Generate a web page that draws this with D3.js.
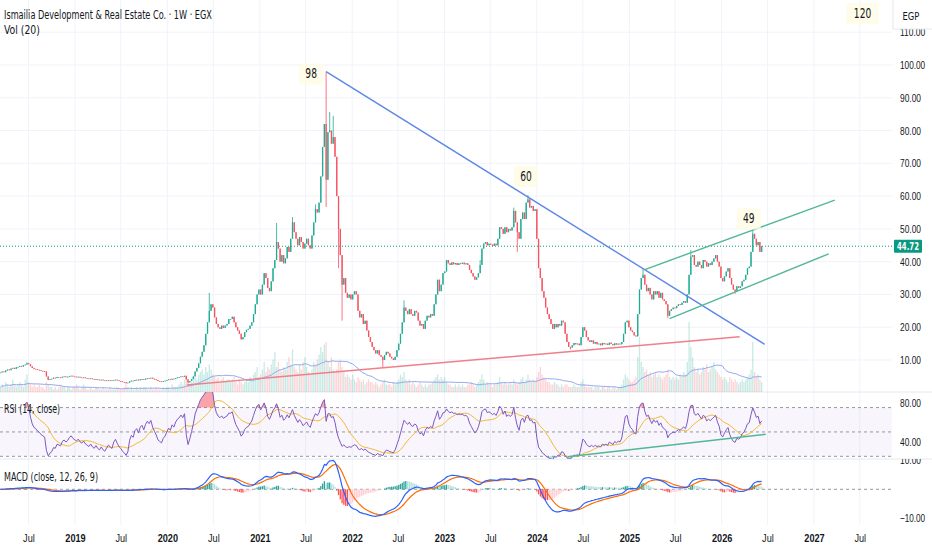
<!DOCTYPE html>
<html lang="en">
<head>
<meta charset="UTF-8">
<title>Ismailia Development &amp; Real Estate Co. · 1W · EGX</title>
<script src="https://d3js.org/d3.v7.min.js"></script>
<style>
  body { margin: 0; background: #fff; }
  svg { display: block; font-family: "DejaVu Sans Condensed", "Liberation Sans", sans-serif; }
  .axis text { fill: #131722; font-size: 11px; }
  .axis path, .axis line { display: none; }
</style>
</head>
<body>
<svg id="chart" width="932" height="550"></svg>
<script>
// weekly bars, first bar in the week of 2018-03-12
const startDate = new Date(2018, 2, 12);

const closes = [
  6.2, 6.5, 6.3, 6.8, 7.1, 6.9, 7.4, 7.6, 7.3, 7.8,
  7.9, 8.2, 8.0, 8.4, 8.6, 9.0, 8.7, 8.1, 7.6, 7.3,
  7.2, 7.0, 6.9, 6.7, 6.6, 6.5, 5.0, 4.0, 4.2, 4.3,
  4.6, 4.5, 4.8, 4.7, 4.6, 4.9, 5.0, 4.8, 4.9, 5.1,
  5.2, 5.0, 4.9, 4.8, 4.9, 4.7, 4.6, 4.7, 4.5, 4.4,
  4.3, 4.4, 4.2, 4.1, 4.2, 4.0, 3.9, 4.0, 3.8, 3.7,
  3.8, 3.9, 3.8, 3.7, 3.9, 4.0, 3.8, 3.6, 3.5, 3.3,
  3.2, 3.0, 3.1, 3.5, 3.7, 3.6, 3.9, 4.0, 3.8, 4.1,
  4.2, 4.0, 4.3, 4.5, 4.4, 4.6, 4.3, 4.1, 3.9, 3.6,
  3.5, 3.4, 3.6, 3.7, 3.9, 4.1, 4.0, 4.3, 4.2, 4.5,
  4.7, 4.8, 5.0, 4.9, 5.2, 4.1, 3.2, 3.6, 4.2, 5.0,
  6.5, 7.6, 9.0, 11.0, 12.5, 14.5, 18.0, 21.5, 25.0, 27.0,
  26.0, 23.0, 21.0, 20.0, 19.5, 20.5, 19.8, 20.5, 21.0, 22.5,
  22.5, 23.2, 21.5, 20.0, 19.0, 18.0, 16.3, 17.0, 18.5, 19.2,
  19.5, 20.5, 21.5, 24.0, 27.0, 30.0, 31.5, 30.0, 33.0, 36.5,
  35.0, 32.0, 31.0, 34.0, 38.0, 40.5, 46.0, 44.0, 40.0, 42.0,
  39.5, 41.0, 44.5, 43.0, 47.0, 52.0, 49.0, 47.0, 45.0, 47.5,
  46.0, 44.0, 45.5, 47.0, 45.0, 44.0, 48.0, 52.0, 56.0, 55.0,
  58.0, 66.0, 75.0, 82.0, 65.0, 79.5, 80.0, 76.0, 78.0, 72.0,
  60.0, 50.0, 42.0, 33.0, 35.0, 30.5, 29.0, 30.0, 28.5, 30.0,
  31.0, 30.0, 25.0, 23.0, 24.0, 21.0, 22.0, 19.0, 17.0, 15.5,
  14.0, 13.0, 12.0, 13.0, 11.5, 11.0, 10.0, 11.5, 12.5, 12.0,
  11.0, 10.5, 10.0, 11.0, 13.0, 15.0, 18.0, 21.5, 26.0, 25.0,
  24.0, 25.5, 24.0, 23.5, 25.0, 24.5, 22.0, 20.5, 21.0, 19.5,
  22.0, 23.5, 23.0, 24.0, 23.5, 27.0, 30.0, 34.5, 31.0, 33.0,
  36.5, 37.0, 40.5, 39.5, 39.0, 39.8, 39.2, 39.6, 39.0, 39.5,
  39.3, 39.7, 39.2, 39.5, 39.0, 37.5, 36.5, 35.5, 34.5, 35.2,
  36.5, 39.0, 44.0, 45.5, 46.0, 45.0, 45.5, 45.2, 44.8, 45.5,
  45.0, 47.0, 50.5, 50.0, 48.5, 50.5, 49.0, 50.0, 49.5, 50.5,
  55.5, 52.0, 49.0, 47.0, 53.0, 55.0, 53.0, 58.0, 59.0, 56.5,
  57.0, 55.5, 56.0, 47.0, 38.0, 35.0, 31.0, 29.0, 26.0, 24.0,
  22.5, 21.0, 19.5, 21.0, 20.0, 21.0, 20.5, 22.0, 21.5, 18.0,
  15.5, 14.0, 13.8, 14.5, 15.2, 14.8, 15.0, 14.5, 17.0, 20.0,
  19.0, 17.0, 16.0, 15.5, 16.0, 15.0, 15.5, 14.8, 15.0, 14.5,
  15.2, 14.8, 15.0, 14.6, 15.3, 14.9, 14.5, 15.1, 14.7, 15.0,
  14.8, 15.5, 18.0, 21.5, 22.0, 20.0, 19.0, 18.5, 17.5, 17.2,
  24.0, 31.5, 35.0, 36.0, 33.0, 31.0, 32.0, 30.0, 28.5, 31.0,
  30.0, 31.0, 29.0, 30.5, 28.5, 28.0, 27.0, 23.5, 25.0, 25.5,
  26.0, 25.8, 26.5, 27.0, 26.8, 27.5, 28.0, 27.5, 30.0, 36.0,
  41.5, 42.0, 39.0, 38.5, 40.0, 39.0, 38.0, 40.5, 40.0, 38.5,
  39.5, 39.0, 40.0, 41.0, 42.0, 40.0, 38.5, 35.0, 34.0, 35.5,
  37.0, 38.0, 35.0, 33.0, 31.5, 31.0, 32.5, 32.0, 32.5, 34.0,
  34.5, 36.0, 38.0, 38.5, 43.0, 48.5, 47.0, 45.0, 46.0, 43.0,
  44.72
];

// relative weekly volume
const volumes = [
  2, 3, 2, 4, 3, 2, 3, 5, 3, 2,   3, 4, 3, 2, 5, 7, 4, 3, 2, 3,
  2, 2, 3, 2, 2, 1, 4, 3, 2, 2,   1, 2, 1, 2, 3, 2, 2, 1, 2, 2,
  1, 2, 2, 3, 2, 1, 2, 3, 2, 1,   1, 2, 1, 1, 2, 2, 1, 1, 2, 1,
  1, 1, 2, 1, 1, 1, 2, 1, 1, 1,   2, 3, 2, 1, 2, 1, 1, 2, 1, 2,
  1, 2, 2, 1, 1, 2, 1, 1, 2, 1,   1, 1, 2, 1, 2, 2, 1, 3, 2, 2,
  2, 3, 4, 3, 5, 6, 4, 3, 4, 6,   6, 5, 7, 8, 9, 7, 10, 8, 11, 9,
  7, 6, 5, 6, 4, 5, 6, 4, 5, 5,   4, 5, 6, 4, 3, 5, 4, 3, 4, 5,
  4, 6, 5, 7, 8, 10, 6, 7, 9, 12, 8, 10, 9, 11, 13, 16, 10, 12, 9, 8,
  10, 9, 12, 14, 11, 17, 10, 9, 8, 11, 9, 12, 14, 10, 8, 7, 9, 12, 11, 13,
  15, 18, 16, 19, 20, 12, 10, 14, 9, 8, 9, 12, 13, 10, 8, 6, 7, 6, 5, 7,
  5, 4, 6, 5, 4, 5, 3, 4, 5, 4,   4, 3, 4, 3, 2, 3, 4, 5, 3, 3,
  3, 2, 4, 3, 4, 5, 7, 6, 8, 5,   4, 5, 3, 4, 3, 2, 3, 4, 3, 2,
  3, 2, 3, 3, 4, 5, 6, 7, 5, 6,   5, 6, 4, 3, 3, 2, 2, 3, 2, 3,
  2, 3, 2, 2, 3, 3, 4, 3, 2, 3,   4, 5, 7, 5, 3, 4, 3, 3, 2, 3,
  3, 4, 6, 4, 3, 4, 3, 3, 4, 3,   5, 4, 3, 4, 5, 6, 4, 5, 7, 5,
  4, 5, 4, 6, 8, 10, 7, 6, 5, 4,  4, 3, 3, 4, 3, 3, 2, 3, 2, 3,
  3, 2, 2, 2, 3, 2, 2, 2, 4, 5,   3, 2, 2, 2, 2, 1, 2, 2, 2, 1,
  2, 2, 1, 2, 2, 1, 2, 2, 1, 2,   2, 3, 5, 7, 6, 5, 4, 4, 5, 6,
  14, 22, 12, 10, 8, 9, 7, 8, 6, 7, 8, 6, 7, 6, 5, 6, 7, 9, 6, 5,
  6, 5, 6, 5, 7, 6, 8, 7, 12, 28, 18, 14, 10, 8, 9, 7, 8, 10, 9, 11,
  8, 9, 10, 12, 9, 8, 7, 6, 5, 6,  5, 4, 6, 5, 4, 5, 4, 3, 4, 5,
  4, 5, 6, 7, 9, 20, 8, 6, 7, 5,   4
];

// [bar index, price] extremes that reach past the candle body
const wickHighs = [[15, 9.3], [118, 30.5], [156, 51.8], [165, 53.6], [178, 57.5], [184, 98],
  [186, 85.7], [188, 84.5], [228, 28.2], [271, 40.5], [290, 56.5], [298, 60.3],
  [363, 37.8], [390, 43.6], [425, 49.8]];
const wickLows = [[27, 3.8], [71, 2.8], [106, 2.9], [184, 56.7], [191, 38], [193, 22],
  [216, 7.6], [292, 43], [322, 13.2], [377, 22.8], [415, 30.2]];

// drawings: [bar index, value]
const trendLines = [
  { pts: [[184, 98], [431.7, 14.8]], color: "#5d87e6" },
  { pts: [[105.3, 2.4], [417.6, 17.1]], color: "#ef7f8a" },
  { pts: [[364, 37.6], [471.3, 58.8]], color: "#52b795" },
  { pts: [[378, 22.6], [467.9, 42.4]], color: "#52b795" }
];
const rsiTrend = [[320.5, 24.6], [432.3, 47.6]];

// price notes: [bar index, price, text]
const notes = [[184, 98, "98"], [298, 60.3, "60"], [425, 49.8, "49"], [487, 120, "120"]];
const noteOffsets = [[-15, 2], [-2, -19], [-4, -11], [0, 13]];

const priceTicks = [10, 20, 30, 40, 50, 60, 70, 80, 90, 100, 110];
const rsiTicks = [40, 80];
const rsiBands = [75, 50, 25];
const macdTicks = [-10, 10];
const timeTicks = ["2018-07", "2019-01", "2019-07", "2020-01", "2020-07", "2021-01", "2021-07",
  "2022-01", "2022-07", "2023-01", "2023-07", "2024-01", "2024-07", "2025-01", "2025-07",
  "2026-01", "2026-07", "2027-01", "2027-07"];

const lastPrice = closes[closes.length - 1];
const upColor = "#22ab94", downColor = "#f7525f";

// ---------- bars ----------
const weekDate = i => new Date(startDate.getTime() + i * 7 * 864e5);
const highMap = new Map(wickHighs), lowMap = new Map(wickLows);
const bars = closes.map((c, i) => {
  const o = i === 0 ? c : closes[i - 1];
  return {
    i, date: weekDate(i), o, c,
    h: Math.max(o, c, highMap.get(i) || 0),
    l: Math.min(o, c, lowMap.get(i) || Infinity),
    v: volumes[i] || 0
  };
});

// ---------- indicators ----------
function ema(src, len) {
  const k = 2 / (len + 1);
  let prev = src[0];
  return src.map((v, i) => (prev = i === 0 ? v : v * k + prev * (1 - k)));
}
function sma(src, len) {
  return src.map((v, i) => {
    if (v == null) return null;
    const win = src.slice(Math.max(0, i - len + 1), i + 1).filter(d => d != null);
    return d3.mean(win);
  });
}
function calcRsi(src, len) {
  const out = new Array(src.length).fill(null);
  let up = 0, dn = 0;
  for (let i = 1; i < src.length; i++) {
    const ch = src[i] - src[i - 1];
    const u = Math.max(ch, 0), d = Math.max(-ch, 0);
    if (i <= len) {
      up += u / len; dn += d / len;
      if (i < len) continue;
    } else {
      up = (up * (len - 1) + u) / len;
      dn = (dn * (len - 1) + d) / len;
    }
    out[i] = dn === 0 ? 100 : 100 - 100 / (1 + up / dn);
  }
  return out;
}

const rsi = calcRsi(closes, 14);
const rsiMa = sma(rsi, 14);
const ema12 = ema(closes, 12), ema26 = ema(closes, 26);
const macd = ema12.map((v, i) => v - ema26[i]);
const signal = ema(macd, 9);
const hist = macd.map((v, i) => v - signal[i]);
const volMa = sma(volumes, 20);

// squeeze text horizontally to the narrow look of the original
function fit(sel, perChar) {
  sel.each(function() {
    const want = this.textContent.length * perChar;
    const have = this.getComputedTextLength();
    if (!have) return;
    const s = want / have;
    const ax = +this.getAttribute("x") || 0;
    this.setAttribute("transform", `translate(${ax},0) scale(${s},1) translate(${-ax},0)`);
  });
}

// ---------- layout ----------
const svg = d3.select("#chart");
const paneR = 892;
const x = d3.scaleTime().domain([new Date(2019, 0, 1), new Date(2027, 0, 1)]).range([75, 814]);
const y = d3.scaleLinear().domain([0, 100]).range([392.8, 65]);
const yVol = d3.scaleLinear().domain([0, 30]).range([392, 317]);
const yRsi = d3.scaleLinear().domain([40, 80]).range([441.7, 402.7]);
const yMacd = d3.scaleLinear().domain([-10, 10]).range([518.3, 460.3]);
const xi = i => x(weekDate(i));
const bw = 1.3;

const defs = svg.append("defs");
function addClip(id, y0, y1) {
  defs.append("clipPath").attr("id", id)
    .append("rect").attr("x", 0).attr("y", y0).attr("width", paneR).attr("height", y1 - y0);
}
addClip("clipPrice", 0, 392);
addClip("clipRsi", 392, 459);
addClip("clipMacd", 459, 525);
defs.append("clipPath").attr("id", "clipMacdAxis")
  .append("rect").attr("x", paneR).attr("y", 459).attr("width", 40).attr("height", 70);

// grid
const tickDates = timeTicks.map(s => d3.timeParse("%Y-%m")(s));
svg.append("g").selectAll("line").data(tickDates).join("line")
  .attr("x1", d => x(d)).attr("x2", d => x(d))
  .attr("y1", 0).attr("y2", 525)
  .attr("stroke", "#f0f3fa");
svg.append("g").attr("clip-path", "url(#clipPrice)")
  .selectAll("line").data(priceTicks).join("line")
  .attr("x1", 0).attr("x2", paneR)
  .attr("y1", d => y(d)).attr("y2", d => y(d))
  .attr("stroke", "#f0f3fa");

// pane separators
svg.append("g").selectAll("line").data([392, 459]).join("line")
  .attr("x1", 0).attr("x2", 932).attr("y1", d => d).attr("y2", d => d)
  .attr("stroke", "#e6e8ee");

// ---------- price pane ----------
const gPrice = svg.append("g").attr("clip-path", "url(#clipPrice)");

gPrice.append("g").selectAll("rect").data(bars).join("rect")
  .attr("x", d => xi(d.i) - bw / 2).attr("width", bw)
  .attr("y", d => yVol(d.v)).attr("height", d => yVol(0) - yVol(d.v))
  .attr("fill", d => d.c >= d.o ? upColor : downColor)
  .attr("opacity", 0.25);

gPrice.append("path").datum(volMa)
  .attr("fill", "none").attr("stroke", "#8fa9ef").attr("stroke-width", 1)
  .attr("d", d3.line().x((d, i) => xi(i)).y(d => yVol(d)));

gPrice.append("line")
  .attr("x1", 0).attr("x2", paneR)
  .attr("y1", y(lastPrice)).attr("y2", y(lastPrice))
  .attr("stroke", "#089981").attr("stroke-dasharray", "1,2");

gPrice.append("g").selectAll("line").data(bars).join("line")
  .attr("x1", d => xi(d.i)).attr("x2", d => xi(d.i))
  .attr("y1", d => y(d.h)).attr("y2", d => y(d.l))
  .attr("stroke", d => d.c >= d.o ? upColor : downColor)
  .attr("stroke-width", 0.8);

gPrice.append("g").selectAll("rect").data(bars).join("rect")
  .attr("x", d => xi(d.i) - bw / 2).attr("width", bw)
  .attr("y", d => y(Math.max(d.o, d.c)))
  .attr("height", d => Math.max(0.8, Math.abs(y(d.o) - y(d.c))))
  .attr("fill", d => d.c >= d.o ? upColor : downColor);

gPrice.append("g").selectAll("line").data(trendLines).join("line")
  .attr("x1", d => xi(d.pts[0][0])).attr("y1", d => y(d.pts[0][1]))
  .attr("x2", d => xi(d.pts[1][0])).attr("y2", d => y(d.pts[1][1]))
  .attr("stroke", d => d.color).attr("stroke-width", 1.4);

const noteG = svg.append("g").selectAll("g").data(notes).join("g")
  .attr("transform", (d, k) => `translate(${xi(d[0]) + noteOffsets[k][0]},${Math.max(13, y(d[1]) + noteOffsets[k][1])})`);
noteG.append("rect")
  .attr("x", d => -d[2].length * 4 - 4).attr("y", -10)
  .attr("width", d => d[2].length * 8 + 8).attr("height", 21)
  .attr("fill", "#fffbe3").attr("opacity", 0.8);
noteG.append("text")
  .attr("text-anchor", "middle").attr("dy", "0.35em")
  .attr("font-size", 13.5).attr("fill", "#131722")
  .text(d => d[2])
  .call(fit, 5.8);

// ---------- RSI pane ----------
const gRsi = svg.append("g").attr("clip-path", "url(#clipRsi)");
gRsi.append("rect")
  .attr("x", 0).attr("width", paneR)
  .attr("y", yRsi(rsiBands[0])).attr("height", yRsi(rsiBands[2]) - yRsi(rsiBands[0]))
  .attr("fill", "#7e57c2").attr("opacity", 0.05);
gRsi.append("g").selectAll("line").data(rsiBands).join("line")
  .attr("x1", 0).attr("x2", paneR)
  .attr("y1", d => yRsi(d)).attr("y2", d => yRsi(d))
  .attr("stroke", "#9598a1").attr("stroke-dasharray", "3,3");

const rsiPts = rsi.map((v, i) => ({ i, v })).filter(d => d.v != null);
gRsi.append("path").datum(rsiPts)
  .attr("fill", "#f23645").attr("opacity", 0.45)
  .attr("d", d3.area().x(d => xi(d.i))
    .y0(yRsi(rsiBands[0])).y1(d => yRsi(Math.max(d.v, rsiBands[0]))));
gRsi.append("path").datum(rsiPts)
  .attr("fill", "#22ab94").attr("opacity", 0.35)
  .attr("d", d3.area().x(d => xi(d.i))
    .y0(yRsi(rsiBands[2])).y1(d => yRsi(Math.min(d.v, rsiBands[2]))));
gRsi.append("path").datum(rsiMa.map((v, i) => ({ i, v })).filter(d => d.v != null))
  .attr("fill", "none").attr("stroke", "#f5b731").attr("stroke-width", 1)
  .attr("d", d3.line().x(d => xi(d.i)).y(d => yRsi(d.v)));
gRsi.append("path").datum(rsiPts)
  .attr("fill", "none").attr("stroke", "#7e57c2").attr("stroke-width", 1)
  .attr("d", d3.line().x(d => xi(d.i)).y(d => yRsi(d.v)));
gRsi.append("line")
  .attr("x1", xi(rsiTrend[0][0])).attr("y1", yRsi(rsiTrend[0][1]))
  .attr("x2", xi(rsiTrend[1][0])).attr("y2", yRsi(rsiTrend[1][1]))
  .attr("stroke", "#52b795").attr("stroke-width", 1.4);

// ---------- MACD pane ----------
const gMacd = svg.append("g").attr("clip-path", "url(#clipMacd)");
gMacd.append("line")
  .attr("x1", 0).attr("x2", paneR).attr("y1", yMacd(0)).attr("y2", yMacd(0))
  .attr("stroke", "#9598a1").attr("stroke-dasharray", "3,3");
gMacd.append("g").selectAll("rect").data(hist).join("rect")
  .attr("x", (d, i) => xi(i) - bw / 2).attr("width", bw)
  .attr("y", d => Math.min(yMacd(0), yMacd(d)))
  .attr("height", d => Math.abs(yMacd(d) - yMacd(0)))
  .attr("fill", (d, i) => {
    const p = i > 0 ? hist[i - 1] : d;
    if (d >= 0) return d >= p ? "#26a69a" : "#b2dfdb";
    return d <= p ? "#ff5252" : "#ffcdd2";
  });
gMacd.append("path").datum(signal)
  .attr("fill", "none").attr("stroke", "#ff6d00").attr("stroke-width", 1.2)
  .attr("d", d3.line().x((d, i) => xi(i)).y(d => yMacd(d)));
gMacd.append("path").datum(macd)
  .attr("fill", "none").attr("stroke", "#2962ff").attr("stroke-width", 1.2)
  .attr("d", d3.line().x((d, i) => xi(i)).y(d => yMacd(d)));

// ---------- axes ----------
const fmt = d3.format(".2f");
svg.append("g").attr("class", "axis").attr("transform", `translate(${paneR},0)`)
  .call(d3.axisRight(y).tickValues(priceTicks).tickFormat(fmt).tickSize(0).tickPadding(8))
  .selectAll("text").call(fit, 4.2);
svg.append("g").attr("class", "axis").attr("transform", `translate(${paneR},0)`)
  .call(d3.axisRight(yRsi).tickValues(rsiTicks).tickFormat(fmt).tickSize(0).tickPadding(8))
  .selectAll("text").call(fit, 4.2);
svg.append("g").attr("class", "axis").attr("clip-path", "url(#clipMacdAxis)")
  .append("g").attr("transform", `translate(${paneR},0)`)
  .call(d3.axisRight(yMacd).tickValues(macdTicks).tickFormat(fmt).tickSize(0).tickPadding(8))
  .selectAll("text").call(fit, 4.2);

// axis header
svg.append("rect").attr("x", 893).attr("y", -1).attr("width", 40).attr("height", 30)
  .attr("fill", "#fff").attr("stroke", "#e6e8ee");
svg.append("text").attr("x", 911).attr("y", 20).attr("text-anchor", "middle")
  .attr("font-size", 11).attr("fill", "#131722").text("EGP").call(fit, 5.6);

// last price label
const lp = svg.append("g").attr("transform", `translate(894,${y(lastPrice)})`);
lp.append("rect").attr("x", 0).attr("y", -6.5).attr("width", 28).attr("height", 13)
  .attr("rx", 1).attr("fill", "#089981");
lp.append("text").attr("x", 14).attr("dy", "0.36em").attr("text-anchor", "middle")
  .attr("font-size", 11).attr("font-weight", "bold").attr("fill", "#fff").text(fmt(lastPrice))
  .call(fit, 4.4);

// time axis
const timeAxis = svg.append("g").attr("class", "axis").attr("transform", "translate(0,530)")
  .call(d3.axisBottom(x).tickValues(tickDates).tickSize(0).tickPadding(4)
    .tickFormat(d => d.getMonth() === 0 ? d3.timeFormat("%Y")(d) : "Jul"));
timeAxis.selectAll("text")
  .attr("font-weight", d => d.getMonth() === 0 ? "bold" : "normal")
  .each(function(d) { d3.select(this).call(fit, d.getMonth() === 0 ? 5.1 : 3.9); });

// legends
const legend = [
  ["Ismailia Development & Real Estate Co. · 1W · EGX", 19, 12, 4.25],
  ["Vol (20)", 34, 11.5, 4.5],
  ["RSI (14, close)", 413, 11.5, 3.75],
  ["MACD (close, 12, 26, 9)", 481, 11.5, 4.1]
];
svg.append("g").selectAll("text").data(legend).join("text")
  .attr("x", 4).attr("y", d => d[1]).attr("font-size", d => d[2])
  .attr("fill", "#131722").text(d => d[0])
  .each(function(d) { d3.select(this).call(fit, d[3]); });
</script>
</body>
</html>
